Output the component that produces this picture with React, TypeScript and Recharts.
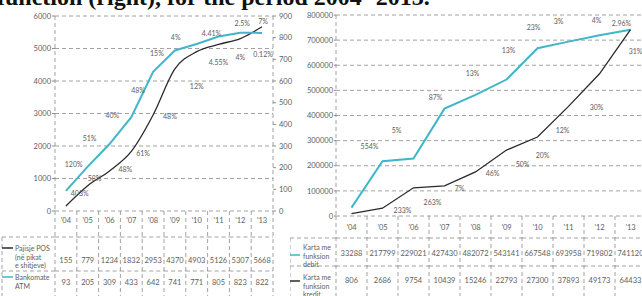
import { ComposedChart, Line, XAxis, YAxis, CartesianGrid } from 'recharts';

const years = ["'04", "'05", "'06", "'07", "'08", "'09", "'10", "'11", "'12", "'13"];
const posDevices = [155, 779, 1234, 1832, 2953, 4370, 4903, 5126, 5307, 5668];
const atmMachines = [93, 205, 309, 433, 642, 741, 771, 805, 823, 822];
const posGrowth = ['', '403%', '58%', '48%', '61%', '48%', '12%', '4.55%', '4%', '7%'];
const atmGrowth = ['', '120%', '51%', '40%', '48%', '15%', '4%', '4.41%', '2.5%', '0.12%'];
const debitCards = [33288, 217799, 229021, 427430, 482072, 543141, 667548, 693958, 719802, 741120];
const creditCards = [806, 2686, 9754, 10439, 15246, 22793, 27300, 37893, 49173, 64433];
const debitGrowth = ['', '554%', '5%', '87%', '13%', '13%', '23%', '3%', '4%', '2.96%'];
const creditGrowth = ['', '233%', '263%', '7%', '46%', '50%', '20%', '12%', '30%', '31%'];
const leftTicks = [0, 1000, 2000, 3000, 4000, 5000, 6000];
const atmTicks = [0, 100, 200, 300, 400, 500, 600, 700, 800, 900];
const cardTicks = [0, 100000, 200000, 300000, 400000, 500000, 600000, 700000, 800000];

// label offsets (px) from each point
const posOff = [[0, 0], [-8, 7], [-15, 7], [-6, 18], [-10, 38], [-5, 47], [0, 34], [0, 18], [0, 18], [1, -6]];
const atmOff = [[0, 0], [-14, -3], [-20, -6], [-19, -2], [-15, 18], [-18, 3], [-21, -7], [-7, -4], [2, -10], [1, 21]];
const debitOff = [[0, 0], [-13, -15], [-17, -28], [-9, -12], [-3, -22], [2, -30], [-4, -21], [-10, -21], [-3, -15], [-9, -7]];
const creditOff = [[0, 0], [20, 2], [19, 14], [15, 2], [17, 1], [16, 14], [5, 18], [-6, 24], [-3, 33], [5, 21]];

const FONT = 'Lato, "DejaVu Sans", sans-serif';
const GRID = '#8c8c8c';
const TXT = '#5e5e5e';
const CYAN = '#3fb6c9';
const DARK = '#2a2a2a';
const DASH = '4 3';

const leftData = years.map((y, i) => ({ year: y, pos: posDevices[i], atm: atmMachines[i] }));
const rightData = years.map((y, i) => ({ year: y, debit: debitCards[i], credit: creditCards[i] }));

function pctLabel(texts: string[], offs: number[][]) {
    return (p: any) => {
        const i = p.index;
        if (!texts[i]) return null;
        return (
            <text
                key={`pct-${i}`}
                x={p.x + offs[i][0]}
                y={p.y + offs[i][1]}
                textAnchor='middle'
                dominantBaseline='central'
                fontSize={7}
                fontFamily={FONT}
                fill={TXT}
            >
                {texts[i]}
            </text>
        );
    };
}

function TableTick(props: any) {
    const { x, y, index, payload, cfg } = props;
    const l = x - cfg.bw / 2;
    const r = x + cfg.bw / 2;
    const ln = { stroke: GRID, strokeDasharray: DASH, strokeWidth: 0.8 };
    const txt = { fontSize: 7.5, fontFamily: FONT, fill: TXT };
    return (
        <g>
            <text x={x} y={y + cfg.labelDy} textAnchor='middle' dominantBaseline='central' {...txt}>
                {payload.value}
            </text>
            <line x1={l} x2={l} y1={y} y2={y + 90} {...ln} />
            {index === years.length - 1 && <line x1={r} x2={r} y1={y} y2={y + 90} {...ln} />}
            {cfg.sepDy.map((d: number) => (
                <line key={d} x1={l} x2={r} y1={y + d} y2={y + d} {...ln} />
            ))}
            {cfg.rows.map((row: number[], k: number) => (
                <text key={k} x={x} y={y + cfg.rowDy[k]} textAnchor='middle' dominantBaseline='central' {...txt}>
                    {row[index]}
                </text>
            ))}
            {index === 0 && (
                <g>
                    <line x1={l - cfg.legendW} x2={l - cfg.legendW} y1={y + cfg.sepDy[0]} y2={y + 90} {...ln} />
                    {cfg.sepDy.map((d: number) => (
                        <line key={d} x1={l - cfg.legendW} x2={l} y1={y + d} y2={y + d} {...ln} />
                    ))}
                    {cfg.legend.map((item: any, k: number) => (
                        <g key={k}>
                            <line
                                x1={l - cfg.legendW}
                                x2={l - cfg.legendW + cfg.swatch}
                                y1={y + item.lineDy}
                                y2={y + item.lineDy}
                                stroke={item.color}
                                strokeWidth={1.5}
                            />
                            {item.lines.map((t: string, j: number) => (
                                <text
                                    key={j}
                                    x={l - cfg.legendW + cfg.textX}
                                    y={y + item.textDy + j * 8.5}
                                    dominantBaseline='central'
                                    fontSize={7}
                                    fontFamily={FONT}
                                    fill={TXT}
                                >
                                    {t}
                                </text>
                            ))}
                        </g>
                    ))}
                </g>
            )}
        </g>
    );
}

const leftTable = {
    bw: 21.8,
    labelDy: 9,
    sepDy: [26, 60],
    rows: [posDevices, atmMachines],
    rowDy: [49, 71],
    legendW: 53,
    swatch: 11,
    textX: 13,
    legend: [
        { lines: ['Pajisje POS', '(në pikat', 'e shitjeve)'], color: DARK, lineDy: 37, textDy: 37 },
        { lines: ['Bankomate', 'ATM'], color: CYAN, lineDy: 66, textDy: 66 },
    ],
};

const rightTable = {
    bw: 31,
    labelDy: 11,
    sepDy: [22, 50],
    rows: [debitCards, creditCards],
    rowDy: [37, 64],
    legendW: 46,
    swatch: 10,
    textX: 13,
    legend: [
        { lines: ['Karta me', 'funksion', 'debit'], color: CYAN, lineDy: 39, textDy: 31 },
        { lines: ['Karta me', 'funksion', 'kredit'], color: DARK, lineDy: 65, textDy: 61 },
    ],
};

const axisTick = { fontSize: 7.5, fontFamily: FONT, fill: TXT };
const axisLine = { stroke: GRID, strokeDasharray: DASH, strokeWidth: 0.8 };

export default function App() {
    return (
        <div style={{ position: 'absolute', left: 0, top: 0, width: 642, height: 296, overflow: 'hidden', background: '#fff' }}>
            <svg width={642} height={20} style={{ position: 'absolute', left: 0, top: 0 }}>
                <text x={-3} y={5} fontSize={24} fontWeight='bold' fontFamily='"Liberation Serif", serif' fill='#111'>
                    function (right), for the period 2004- 2013.
                </text>
            </svg>
            <div style={{ position: 'absolute', left: 0, top: 0, width: 300, height: 296 }}>
                <ComposedChart width={300} height={296} data={leftData} margin={{ top: 16, right: 0, bottom: 0, left: 0 }}>
                    <CartesianGrid vertical={false} stroke={GRID} strokeDasharray={DASH} strokeWidth={0.8} yAxisId='pos' />
                    <XAxis
                        dataKey='year'
                        scale='band'
                        height={85}
                        axisLine={false}
                        tickLine={false}
                        tickSize={0}
                        tickMargin={0}
                        interval={0}
                        tick={<TableTick cfg={leftTable} />}
                    />
                    <YAxis
                        yAxisId='pos'
                        orientation='left'
                        width={55}
                        domain={[0, 6000]}
                        ticks={leftTicks}
                        tick={axisTick}
                        tickSize={3}
                        tickMargin={1}
                        axisLine={axisLine}
                        tickLine={{ stroke: GRID }}
                    />
                    <YAxis
                        yAxisId='atm'
                        orientation='right'
                        width={27}
                        domain={[0, 900]}
                        ticks={atmTicks}
                        tick={{ ...axisTick, textAnchor: 'start' }}
                        tickSize={3}
                        tickMargin={3}
                        axisLine={axisLine}
                        tickLine={{ stroke: GRID }}
                    />
                    <Line
                        yAxisId='pos'
                        dataKey='pos'
                        type='monotone'
                        stroke={DARK}
                        strokeWidth={1.3}
                        dot={false}
                        label={pctLabel(posGrowth, posOff)}
                        isAnimationActive={false}
                    />
                    <Line
                        yAxisId='atm'
                        dataKey='atm'
                        type='linear'
                        stroke={CYAN}
                        strokeWidth={2}
                        dot={false}
                        label={pctLabel(atmGrowth, atmOff)}
                        isAnimationActive={false}
                    />
                </ComposedChart>
            </div>
            <div style={{ position: 'absolute', left: 290, top: 0, width: 356, height: 296 }}>
                <ComposedChart width={356} height={296} data={rightData} margin={{ top: 15, right: 0, bottom: 0, left: 0 }}>
                    <CartesianGrid vertical={false} stroke={GRID} strokeDasharray={DASH} strokeWidth={0.8} yAxisId='debit' />
                    <XAxis
                        dataKey='year'
                        scale='band'
                        height={80}
                        axisLine={false}
                        tickLine={false}
                        tickSize={0}
                        tickMargin={0}
                        interval={0}
                        tick={<TableTick cfg={rightTable} />}
                    />
                    <YAxis
                        yAxisId='debit'
                        orientation='left'
                        width={46}
                        domain={[0, 800000]}
                        ticks={cardTicks}
                        tick={axisTick}
                        tickSize={2}
                        tickMargin={1}
                        axisLine={axisLine}
                        tickLine={{ stroke: GRID }}
                    />
                    <YAxis
                        yAxisId='credit'
                        orientation='right'
                        width={0}
                        domain={[0, 69500]}
                        tick={false}
                        axisLine={false}
                        tickLine={false}
                    />
                    <Line
                        yAxisId='debit'
                        dataKey='debit'
                        type='linear'
                        stroke={CYAN}
                        strokeWidth={2}
                        dot={false}
                        label={pctLabel(debitGrowth, debitOff)}
                        isAnimationActive={false}
                    />
                    <Line
                        yAxisId='credit'
                        dataKey='credit'
                        type='linear'
                        stroke={DARK}
                        strokeWidth={1.3}
                        dot={false}
                        label={pctLabel(creditGrowth, creditOff)}
                        isAnimationActive={false}
                    />
                </ComposedChart>
            </div>
        </div>
    );
}
